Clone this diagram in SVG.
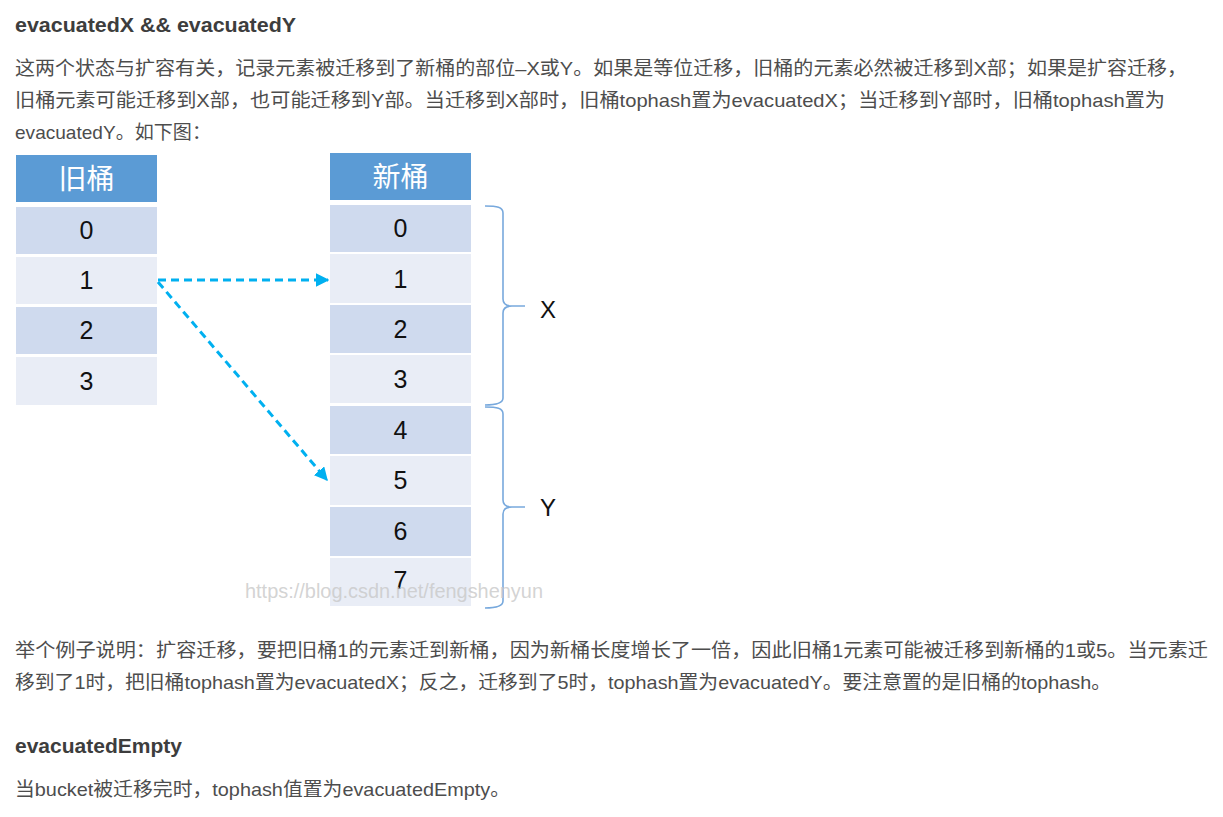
<svg xmlns="http://www.w3.org/2000/svg" width="1223" height="817" viewBox="0 0 1223 817">
<defs>
<style>
.h{font-family:"Liberation Sans","Noto Sans CJK SC",sans-serif;font-weight:bold;font-size:20px;fill:#3d3d3d}
.p{font-family:"Liberation Sans","Noto Sans CJK SC",sans-serif;font-size:19px;fill:#4d4d4d}
.hd{fill:#5b9bd5}
.dk{fill:#cfdaee}
.lt{fill:#e9edf6}
.ht{font-family:"Noto Sans CJK SC",sans-serif;font-size:28px;fill:#ffffff;text-anchor:middle}
.n{font-family:"Liberation Sans",sans-serif;font-size:25px;fill:#111111;text-anchor:middle}
.lbl{font-family:"Liberation Sans",sans-serif;font-size:24px;fill:#111111}
.br{fill:none;stroke:#78a9dd;stroke-width:1.6}
.ar{fill:none;stroke:#00b0f0;stroke-width:3;stroke-dasharray:8 5}
.wm{font-family:"Liberation Sans",sans-serif;font-size:21px;fill:#c8c8c8;fill-opacity:0.8}
</style>
<marker id="ah" viewBox="0 0 10 10" refX="9" refY="5" markerWidth="4.5" markerHeight="4.5" orient="auto" markerUnits="strokeWidth">
<path d="M0,0 L10,5 L0,10 z" fill="#00b0f0"/>
</marker>
</defs>
<rect width="1223" height="817" fill="#ffffff"/>

<g id="text-top">
<text class="h" x="15" y="32" textLength="281" lengthAdjust="spacingAndGlyphs">evacuatedX &amp;&amp; evacuatedY</text>
<text class="p" x="15" y="75" textLength="1172" lengthAdjust="spacingAndGlyphs">这两个状态与扩容有关，记录元素被迁移到了新桶的部位–X或Y。如果是等位迁移，旧桶的元素必然被迁移到X部；如果是扩容迁移，</text>
<text class="p" x="15" y="107" textLength="1150" lengthAdjust="spacingAndGlyphs">旧桶元素可能迁移到X部，也可能迁移到Y部。当迁移到X部时，旧桶tophash置为evacuatedX；当迁移到Y部时，旧桶tophash置为</text>
<text class="p" x="15" y="139" textLength="196" lengthAdjust="spacingAndGlyphs">evacuatedY。如下图：</text>
</g>

<g id="old-bucket">
<rect class="hd" x="16" y="155" width="141" height="47"/>
<text class="ht" x="86.5" y="189">旧桶</text>
<rect class="dk" x="16" y="207" width="141" height="47"/>
<text class="n" x="86.5" y="239">0</text>
<rect class="lt" x="16" y="257" width="141" height="47"/>
<text class="n" x="86.5" y="289">1</text>
<rect class="dk" x="16" y="307" width="141" height="47"/>
<text class="n" x="86.5" y="339">2</text>
<rect class="lt" x="16" y="357" width="141" height="48"/>
<text class="n" x="86.5" y="390">3</text>
</g>

<g id="new-bucket">
<rect class="hd" x="330" y="153" width="141" height="47"/>
<text class="ht" x="400.5" y="187">新桶</text>
<rect class="dk" x="330" y="205" width="141" height="47"/>
<text class="n" x="400.5" y="237">0</text>
<rect class="lt" x="330" y="254" width="141" height="49"/>
<text class="n" x="400.5" y="288">1</text>
<rect class="dk" x="330" y="305" width="141" height="48"/>
<text class="n" x="400.5" y="338">2</text>
<rect class="lt" x="330" y="355" width="141" height="48"/>
<text class="n" x="400.5" y="388">3</text>
<rect class="dk" x="330" y="406" width="141" height="48"/>
<text class="n" x="400.5" y="439">4</text>
<rect class="lt" x="330" y="456" width="141" height="49"/>
<text class="n" x="400.5" y="489">5</text>
<rect class="dk" x="330" y="507" width="141" height="49"/>
<text class="n" x="400.5" y="540">6</text>
<rect class="lt" x="330" y="558" width="141" height="48"/>
<text class="n" x="400.5" y="589">7</text>
</g>

<g id="brace-x">
<path class="br" d="M485,206 C497,206 503,207 503,213 L503,299 C503,304 506,306 512,306 L525,306 M512,306 C506,306 503,308 503,313 L503,398 C503,403 497,405 485,405"/>
<text class="lbl" x="540" y="318">X</text>
</g>

<g id="brace-y">
<path class="br" d="M485,407 C497,407 503,408 503,414 L503,500 C503,505 506,507 512,507 L525,507 M512,507 C506,507 503,509 503,514 L503,601 C503,606 497,608 485,608"/>
<text class="lbl" x="540" y="516">Y</text>
</g>

<g id="connectors">
<line class="ar" x1="158" y1="280" x2="328" y2="280" marker-end="url(#ah)"/>
<line class="ar" x1="158" y1="282" x2="327" y2="480" marker-end="url(#ah)"/>
</g>

<text class="wm" x="245" y="598" textLength="298" lengthAdjust="spacingAndGlyphs">https://blog.csdn.net/fengshenyun</text>

<g id="text-bottom">
<text class="p" x="15" y="657" textLength="1193" lengthAdjust="spacingAndGlyphs">举个例子说明：扩容迁移，要把旧桶1的元素迁到新桶，因为新桶长度增长了一倍，因此旧桶1元素可能被迁移到新桶的1或5。当元素迁</text>
<text class="p" x="15" y="689" textLength="1096" lengthAdjust="spacingAndGlyphs">移到了1时，把旧桶tophash置为evacuatedX；反之，迁移到了5时，tophash置为evacuatedY。要注意置的是旧桶的tophash。</text>
<text class="h" x="15" y="753" textLength="167" lengthAdjust="spacingAndGlyphs">evacuatedEmpty</text>
<text class="p" x="15" y="796" textLength="495" lengthAdjust="spacingAndGlyphs">当bucket被迁移完时，tophash值置为evacuatedEmpty。</text>
</g>
</svg>
